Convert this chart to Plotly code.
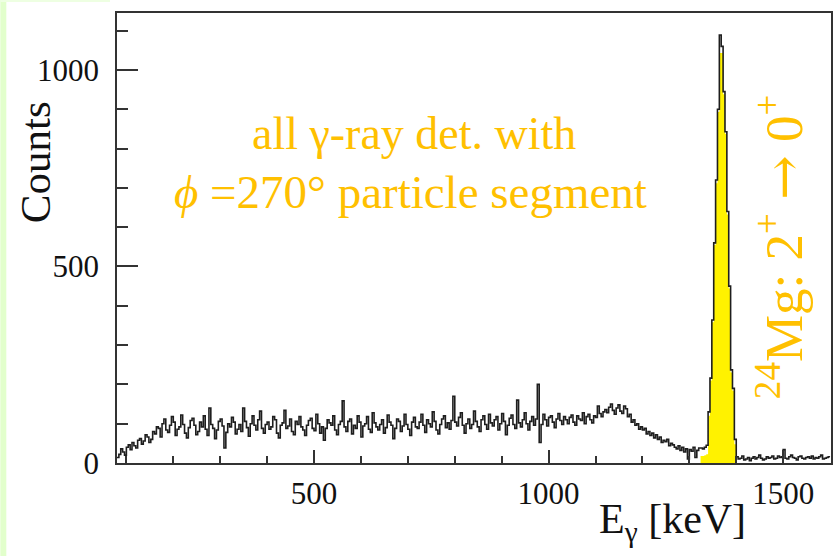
import plotly.graph_objects as go

# ---------------- data (4 keV bins starting at 80 keV) ----------------
bin_start = 80
bin_width = 4

bg_low = [
    14, 22, 36, 28, 20, 40, 46, 34, 52, 44, 38, 58, 62, 48, 56, 72, 66, 52, 60, 80,
    74, 92, 88, 66, 100, 112, 84, 78, 96, 118, 104, 70, 86, 92, 122, 98, 76, 64, 90, 108,
    114, 96, 72, 80, 104, 92, 120, 86, 70, 140, 98, 88, 62, 84, 106, 112, 94, 38, 78, 100,
    92, 116, 104, 74, 86, 98, 80, 140, 106, 90, 68, 100, 120, 96, 84, 110, 132, 88, 76, 98,
    104, 86, 92, 118, 110, 76, 64, 96, 102, 134, 88, 94, 112, 80, 72, 106, 98, 118, 92, 84,
    70, 96, 108, 114, 88, 82, 124, 100, 76, 92, 58, 88, 110, 102, 96, 120, 84, 72, 98, 106,
    158, 92, 80, 106, 112, 74, 96, 88, 120, 104, 66, 94, 100, 118, 86, 78, 128, 102, 92, 84,
    98, 110, 76, 90, 122, 104, 96, 62, 88, 112, 106, 80, 94, 124, 98, 86, 70, 104, 116, 92,
    88, 104, 124, 96, 78, 110, 100, 92, 130, 106, 84, 74, 98, 112, 120, 90, 102, 86, 108, 170,
    104, 94, 116, 128, 96, 76, 100, 112, 88, 98, 132, 106, 92, 80, 110, 120, 98, 86, 124, 102,
    94, 110, 118, 84, 100, 126, 106, 72, 96, 114, 122, 98, 88, 160, 102, 92, 110, 128, 100, 84,
    106, 118, 96, 112, 200, 52, 98, 124, 110, 94, 116, 120, 104, 90, 112, 126, 108, 98, 118, 110,
    100, 116, 122, 104, 96, 120, 112, 108, 128, 100, 118, 124, 110, 102, 120, 116, 145, 126, 118, 130,
    136, 128, 142, 150, 134, 124, 140, 148, 132, 126, 145, 138, 118, 124, 104, 110, 96, 100, 86, 92,
    84, 88, 74, 80, 70, 76, 64, 72, 60, 66, 52, 58, 54, 60, 44, 50, 46, 40, 36, 44,
    32, 40, 28, 36, 10, 34, 30, 40, 14, 32, 38,
]

peak = [38, 36, 40, 45, 130, 216, 364, 560, 720, 900, 1089, 1060, 945, 843, 640, 450, 237, 190, 60]

gate_counts = [18, 18, 20, 22, 120, 210, 358, 555, 712, 893, 1043, 1043, 938, 838, 632, 444, 230, 184, 48]

bg_high = [
    16, 10, 12, 18, 8, 10, 14, 6, 12, 16, 10, 14, 20, 12, 8, 10, 16, 12, 14, 18,
    10, 12, 18, 14, 16, 34, 12, 10, 16, 20, 14, 12, 8, 16, 18, 12, 10, 14, 16, 12,
    18, 10, 14, 12, 16, 20, 10, 12, 14, 16,
]

counts = bg_low + peak + bg_high
gate_start_index = len(bg_low)

x_ticks = [500, 1000, 1500]
y_ticks = [0, 500, 1000]

# ---------------- build step arrays ----------------
edges = [bin_start + i * bin_width for i in range(len(counts) + 1)]
step_y = counts + [counts[-1]]

gate_edges = edges[gate_start_index:gate_start_index + len(gate_counts) + 1]
gate_y = gate_counts + [0]

TXT = "#FFC000"
FONT = "Liberation Serif"
AX = "#333333"

fig = go.Figure()
fig.add_trace(go.Scatter(
    x=gate_edges, y=gate_y, mode="lines", line=dict(shape="hv", width=0, color="#FFF200"),
    fill="tozeroy", fillcolor="#FFF200", hoverinfo="skip", showlegend=False))
fig.add_trace(go.Scatter(
    x=edges, y=step_y, mode="lines", line=dict(shape="hv", width=1.6, color="#1e1e1e"),
    showlegend=False))

W, H = 837, 556
L, R, T, B = 117, 4, 13, 93
pw, ph = W - L - R, H - T - B

def px(x):
    return (x - L) / pw

def py(y):
    return (H - B - y) / ph

fig.update_layout(
    width=W, height=H,
    margin=dict(l=L, r=R, t=T, b=B),
    paper_bgcolor="white", plot_bgcolor="white",
    font=dict(family=FONT, size=31, color="#111111"),
    xaxis=dict(range=[80, 1602], tickvals=x_ticks, ticks="inside", ticklen=13, tickwidth=1.5,
               tickcolor=AX, showline=True, linecolor=AX, linewidth=1.5, mirror=True,
               showgrid=False, zeroline=False, ticklabelstandoff=2,
               minor=dict(dtick=100, tick0=0, ticks="inside", ticklen=7, tickwidth=1.5, tickcolor=AX)),
    yaxis=dict(range=[0, 1145], tickvals=y_ticks, ticks="inside", ticklen=21, tickwidth=1.5,
               tickcolor=AX, showline=True, linecolor=AX, linewidth=1.5, mirror=True,
               showgrid=False, zeroline=False, ticklabelstandoff=10,
               minor=dict(dtick=100, tick0=0, ticks="inside", ticklen=11, tickwidth=1.5, tickcolor=AX)),
    shapes=[
        dict(type="rect", xref="paper", yref="paper", x0=px(0), x1=px(6), y0=py(H), y1=py(0),
             fillcolor="#E2FFCC", line=dict(width=0), layer="below"),
        dict(type="rect", xref="paper", yref="paper", x0=px(0), x1=px(110), y0=py(2), y1=py(0),
             fillcolor="#EEFFE2", line=dict(width=0), layer="below"),
    ],
    annotations=[
        dict(text="Counts", xref="paper", yref="paper", x=px(35), y=py(162), textangle=-90,
             showarrow=False, xanchor="center", yanchor="middle", font=dict(size=43, family=FONT, color="#111111")),
        dict(text="E<sub>γ</sub> [keV]", xref="paper", yref="paper", x=px(750), y=py(522),
             showarrow=False, xanchor="right", yanchor="middle", font=dict(size=42, family=FONT, color="#111111")),
        dict(text="all γ-ray det. with", xref="paper", yref="paper", x=px(415), y=py(133),
             showarrow=False, xanchor="center", yanchor="middle", font=dict(size=46, family=FONT, color=TXT)),
        dict(text="<i>ϕ</i> =270° particle segment", xref="paper", yref="paper", x=px(411), y=py(192),
             showarrow=False, xanchor="center", yanchor="middle", font=dict(size=47, family=FONT, color=TXT)),
        dict(text="<sup>24</sup>Mg: 2<sup>+</sup> <span style=\"font-family:'DejaVu Serif'\">→</span> 0<sup>+</sup>",
             xref="paper", yref="paper",
             x=px(782), y=py(247), textangle=-90, showarrow=False, xanchor="center", yanchor="middle",
             font=dict(size=53, family=FONT, color=TXT)),
    ],
)

fig.write_html("out.html")
